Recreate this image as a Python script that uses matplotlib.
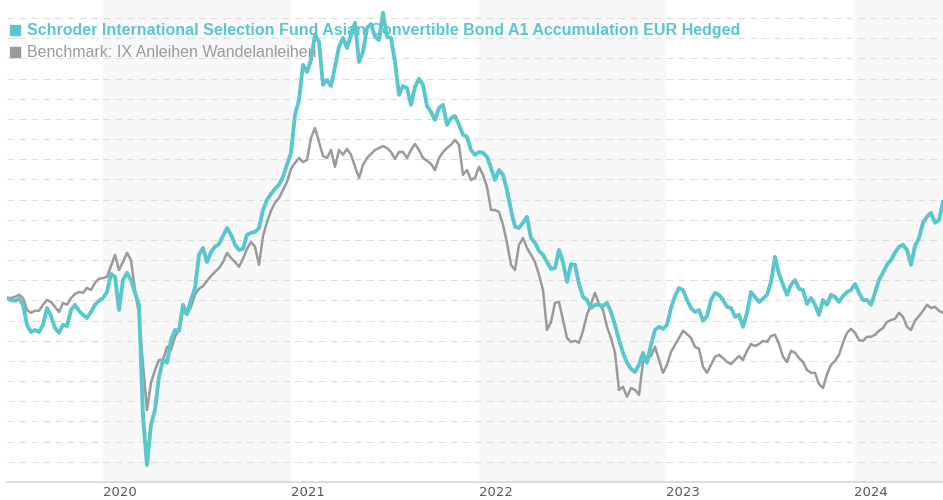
import numpy as np
import pandas as pd
import matplotlib
matplotlib.use("Agg")
import matplotlib.pyplot as plt

# Wertentwicklung (indexiert, Start = 100), gleichmaessig von Ende Juni 2019 bis Juni 2024
start_date = "2019-06-28"
end_date = "2024-06-22"

fund_name = "Schroder International Selection Fund Asian Convertible Bond A1 Accumulation EUR Hedged"
bench_name = "Benchmark: IX Anleihen Wandelanleihen"

fund_values = [
    100.0, 99.5, 99.3, 99.8, 98.3, 93.3, 91.5, 92.0, 91.5, 93.3,
    97.5, 95.5, 92.5, 91.3, 93.3, 93.0, 97.0, 98.3, 96.8, 95.8,
    95.0, 96.5, 98.3, 99.3, 100.0, 101.5, 106.0, 105.3, 97.0, 104.5,
    106.3, 104.5, 101.3, 98.3, 70.3, 58.3, 68.3, 72.0, 80.3, 84.5,
    83.8, 89.5, 92.0, 91.8, 98.3, 96.0, 99.5, 102.5, 110.8, 112.5,
    109.0, 111.5, 112.8, 113.5, 115.5, 117.5, 115.8, 113.3, 112.0, 112.3,
    115.8, 116.3, 116.5, 117.5, 122.0, 124.5, 126.0, 127.3, 128.3, 130.3,
    133.3, 136.3, 145.8, 149.5, 158.3, 156.5, 159.5, 165.8, 164.0, 153.3,
    154.5, 153.0, 157.8, 162.8, 165.0, 162.5, 165.8, 168.8, 159.0, 161.5,
    167.5, 168.5, 165.3, 164.5, 171.3, 165.3, 165.0, 159.0, 150.8, 153.0,
    152.5, 148.3, 152.8, 154.8, 153.3, 148.0, 146.5, 144.5, 147.5, 148.3,
    143.3, 145.0, 145.5, 143.3, 140.8, 140.3, 137.0, 135.8, 136.5, 136.3,
    135.3, 132.5, 129.5, 132.0, 130.8, 127.0, 122.0, 117.8, 117.5, 118.8,
    120.3, 115.0, 113.8, 111.8, 110.8, 109.0, 107.3, 107.5, 112.0, 109.0,
    104.0, 108.5, 108.3, 103.5, 100.3, 99.5, 97.5, 98.3, 98.3, 98.0,
    98.8, 96.5, 93.3, 89.5, 86.3, 83.8, 82.3, 81.5, 83.3, 86.3,
    83.8, 88.3, 92.0, 92.8, 92.3, 93.3, 97.5, 100.5, 102.5, 102.0,
    99.5, 97.5, 96.5, 97.0, 94.3, 95.5, 99.5, 101.3, 100.8, 99.5,
    97.8, 97.5, 95.3, 95.8, 92.8, 96.3, 101.5, 100.3, 99.0, 99.8,
    100.8, 104.0, 110.3, 106.0, 103.3, 100.8, 103.3, 104.5, 102.3, 102.0,
    98.5, 100.0, 98.3, 95.8, 99.5, 98.3, 100.8, 100.3, 99.0, 100.5,
    101.5, 102.0, 103.5, 101.3, 99.5, 99.5, 98.3, 101.3, 104.5, 106.3,
    108.3, 109.5, 111.3, 112.8, 113.3, 112.0, 108.3, 113.0, 115.0, 118.8,
    120.3, 121.3, 118.8, 119.5, 124.0,
]

bench_values = [
    100.0, 100.0, 100.3, 100.8, 100.0, 97.0, 96.3, 96.8, 96.8, 98.3,
    99.5, 99.0, 97.8, 96.5, 98.8, 98.3, 100.0, 101.0, 101.5, 101.3,
    102.5, 102.0, 103.8, 104.8, 105.0, 105.3, 108.0, 110.8, 107.0, 109.0,
    111.3, 109.5, 102.0, 95.8, 83.3, 72.0, 78.8, 82.0, 84.5, 84.5,
    87.8, 87.0, 90.3, 92.0, 96.8, 95.8, 97.8, 100.8, 102.3, 103.0,
    104.3, 105.5, 106.5, 107.5, 109.0, 111.3, 110.0, 109.0, 107.8, 109.8,
    112.3, 114.0, 112.8, 108.3, 115.5, 119.0, 121.8, 123.8, 125.0, 127.0,
    129.0, 132.3, 133.8, 135.0, 134.0, 134.5, 140.0, 142.5, 139.0, 135.5,
    135.0, 137.0, 132.8, 137.0, 135.8, 137.3, 135.8, 132.8, 130.0, 133.3,
    135.0, 136.0, 137.0, 137.5, 138.0, 137.5, 136.5, 134.8, 136.5, 136.5,
    135.0, 137.0, 138.5, 137.0, 135.0, 134.3, 133.5, 132.0, 135.0, 136.5,
    137.5, 138.3, 139.5, 138.3, 130.8, 132.0, 129.5, 130.0, 132.8, 130.8,
    127.8, 122.0, 122.0, 121.5, 118.3, 113.8, 108.3, 107.0, 113.3, 115.0,
    112.5, 110.8, 109.0, 105.8, 102.0, 92.0, 94.0, 98.8, 99.0, 94.5,
    90.0, 89.0, 89.3, 88.8, 91.8, 95.8, 98.5, 101.3, 98.5, 97.0,
    92.8, 90.0, 86.3, 77.0, 77.8, 75.3, 77.5, 77.0, 75.8, 84.0,
    85.0, 85.5, 87.8, 84.5, 81.3, 83.3, 86.5, 88.3, 90.0, 91.8,
    91.0, 90.0, 87.8, 87.3, 82.8, 81.3, 83.3, 85.3, 85.8, 85.0,
    84.0, 83.5, 84.5, 85.5, 84.5, 86.8, 88.5, 88.0, 88.5, 89.3,
    89.0, 90.5, 90.8, 88.5, 85.3, 84.0, 86.8, 86.3, 85.0, 84.0,
    82.0, 81.3, 81.3, 78.5, 77.5, 81.0, 83.3, 84.3, 85.8, 88.8,
    91.3, 92.3, 91.3, 89.5, 89.3, 90.3, 90.3, 90.8, 91.8, 92.5,
    94.0, 94.5, 94.8, 96.3, 95.3, 92.8, 92.0, 94.3, 95.5, 96.8,
    98.3, 97.5, 97.8, 96.8, 96.3,
]

years = [2020, 2021, 2022, 2023, 2024]
shaded_years = [2020, 2022, 2024]

teal = "#5cc6cd"
grey = "#9a9a9a"

fund_dates = pd.date_range(start_date, end_date, periods=len(fund_values))
bench_dates = pd.date_range(start_date, end_date, periods=len(bench_values))

fig = plt.figure(figsize=(9.43, 5.0), dpi=100)
ax = fig.add_axes([7 / 943, 18 / 500, 936 / 943, 482 / 500])

x0, x1 = pd.Timestamp(start_date), pd.Timestamp(end_date)
ax.set_xlim(x0, x1)
ax.set_ylim(54, 174.5)

# Hintergrundbaender fuer jedes zweite Jahr
for y in shaded_years:
    ax.axvspan(pd.Timestamp(f"{y}-01-01"), min(pd.Timestamp(f"{y + 1}-01-01"), x1),
               color="#f8f8f8", lw=0, zorder=0)

# gestrichelte Hilfslinien (ohne Beschriftung)
grid_y = 174.5 - (18 + 20.17 * np.arange(23)) / 4
ax.set_yticks(grid_y)
ax.yaxis.grid(True, linestyle=(0, (6.7, 4.8)), color="#dedede", lw=0.75, zorder=1)
ax.set_axisbelow(True)
ax.tick_params(axis="y", length=0, labelleft=False)

ax.plot(bench_dates, bench_values, color=grey, lw=1.8, zorder=3, solid_joinstyle="round")
ax.plot(fund_dates, fund_values, color=teal, lw=2.8, zorder=4, solid_joinstyle="round")

for side in ["top", "left", "right"]:
    ax.spines[side].set_visible(False)
ax.spines["bottom"].set_color("#d6d6d6")
ax.spines["bottom"].set_linewidth(1.2)

ax.set_xticks([pd.Timestamp(f"{y}-01-01") for y in years])
ax.set_xticklabels([str(y) for y in years])
ax.tick_params(axis="x", length=0, pad=3, labelsize=9.5, labelcolor="#555555")
for lab in ax.get_xticklabels():
    lab.set_horizontalalignment("left")

# Legende oben links (liegt unter den Linien)
ax.plot([8 / 936], [1 - 30 / 482], marker="s", ms=7, color=teal, transform=ax.transAxes,
        clip_on=False, zorder=2)
ax.text(20 / 936, 1 - 30 / 482, fund_name, transform=ax.transAxes, ha="left", va="center",
        fontsize=11.5, fontweight="bold", color=teal, family="Liberation Sans", zorder=2)
ax.plot([8 / 936], [1 - 52 / 482], marker="s", ms=7, color=grey, transform=ax.transAxes,
        clip_on=False, zorder=2)
ax.text(20 / 936, 1 - 52 / 482, bench_name, transform=ax.transAxes, ha="left", va="center",
        fontsize=11.5, color=grey, family="Liberation Sans", zorder=2)

fig.savefig("out.png", dpi=100)
